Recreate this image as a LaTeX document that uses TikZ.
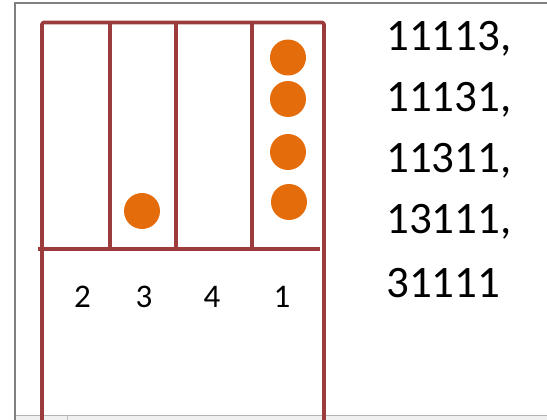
\documentclass[tikz,border=0pt]{standalone}
\usepackage{fontspec}
\setmainfont{Carlito}
\definecolor{boxred}{HTML}{9B3B3B}
\definecolor{ballorange}{HTML}{E46C0A}
\definecolor{framegray}{HTML}{808080}
\tikzset{
  boxline/.style={draw=boxred, line width=3.6pt, line join=round, rounded corners=1.5pt},
  ball/.style={circle, fill=ballorange, minimum size=36pt, inner sep=0pt},
  colnum/.style={font=\fontsize{33}{40}\selectfont, inner sep=0pt},
  seqtext/.style={font=\fontsize{45}{54}\selectfont, inner sep=0pt, anchor=west},
}
\begin{document}
\begin{tikzpicture}[x=1pt, y=-1pt]
\useasboundingbox (0,0) rectangle (547,420);
% window frame
\fill[gray!12] (15,415) rectangle (547,420);
\draw[framegray!60, line width=1pt] (15,415) -- (547,415);
\draw[framegray!50, line width=0.8pt] (67,415) -- (67,420);
\draw[framegray, line width=2pt] (15,420) -- (15,3) -- (547,3);
% box
\draw[boxline] (42,420) -- (42,22.5) -- (324,22.5) -- (324,420);
\draw[boxline, rounded corners=0pt] (38,249) -- (320,249);
\draw[boxline, rounded corners=0pt] (110,22.5) -- (110,249);
\draw[boxline, rounded corners=0pt] (176,22.5) -- (176,249);
\draw[boxline, rounded corners=0pt] (252,22.5) -- (252,249);
% balls
\node[ball] (b1) at (288,57.5) {};
\node[ball] (b2) at (288,99) {};
\node[ball] (b3) at (288,152) {};
\node[ball] (b4) at (289,202) {};
\node[ball] (b5) at (142,211) {};
% column numbers
\node[colnum] (n2) at (82.5,297) {2};
\node[colnum] (n3) at (144,297) {3};
\node[colnum] (n4) at (212,297) {4};
\node[colnum] (n1) at (282,297) {1};
% sequences
\node[seqtext] (s1) at (386,39) {11113,};
\node[seqtext] (s2) at (386,100) {11131,};
\node[seqtext] (s3) at (386,161) {11311,};
\node[seqtext] (s4) at (386,222) {13111,};
\node[seqtext] (s5) at (386,283) {31111};
\end{tikzpicture}
\end{document}
